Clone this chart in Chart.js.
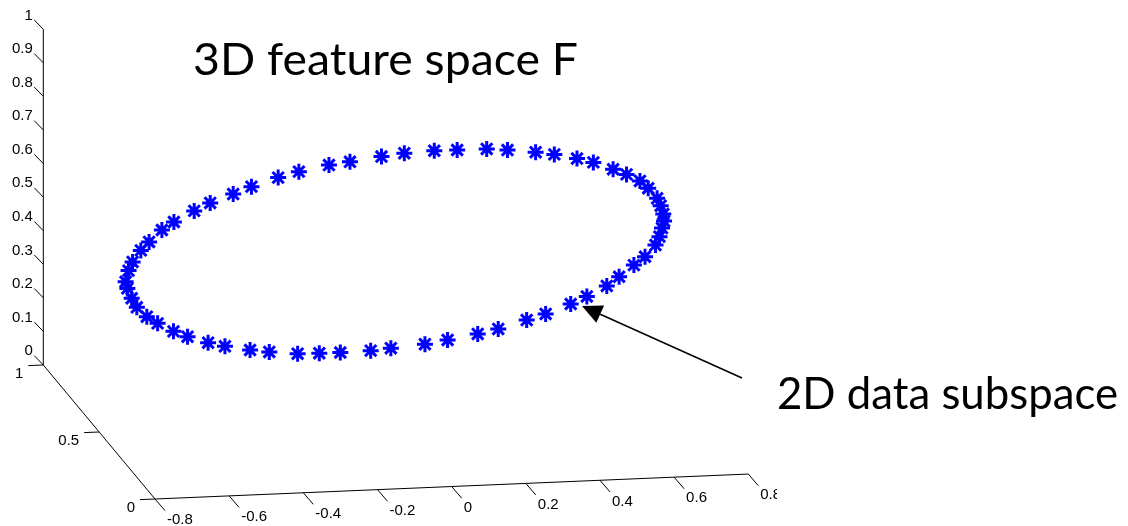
<!DOCTYPE html>
<html>
<head>
<meta charset="utf-8">
<script src="https://cdn.jsdelivr.net/npm/chart.js@4/dist/chart.umd.min.js"></script>
<style>
html,body{margin:0;padding:0;background:#ffffff;}
#wrap{width:1128px;height:526px;position:relative;}
</style>
</head>
<body>
<div id="wrap"><canvas id="c" width="1128" height="526"></canvas></div>
<script>
// ---- Data: points in the 3D feature space F ----
const featX = [-0.700,-0.685,-0.658,-0.630,-0.588,-0.548,-0.492,-0.445,-0.379,-0.327,
  -0.252,-0.196,-0.115,-0.056,0.001,0.082,0.134,0.222,0.278,0.352,
  0.401,0.466,0.509,0.563,0.596,0.635,0.655,0.678,0.696,0.707,
  0.705,0.699,0.694,0.681,0.661,0.640,0.600,0.566,0.519,0.474,
  0.409,0.358,0.289,0.234,0.153,0.094,0.014,-0.048,-0.127,-0.185,
  -0.264,-0.317,-0.390,-0.438,-0.498,-0.537,-0.587,-0.619,-0.658,-0.679,
  -0.696,-0.706,-0.711,-0.709];
const featY = [0.595,0.629,0.680,0.727,0.777,0.813,0.857,0.887,0.922,0.944,
  0.968,0.982,0.997,0.999,1.000,0.997,0.989,0.976,0.959,0.935,
  0.914,0.875,0.848,0.803,0.768,0.719,0.675,0.619,0.579,0.522,
  0.480,0.437,0.402,0.366,0.323,0.285,0.232,0.193,0.157,0.128,
  0.089,0.066,0.040,0.025,0.008,-0.002,-0.003,-0.004,0.002,0.014,
  0.034,0.046,0.073,0.099,0.139,0.173,0.213,0.250,0.302,0.340,
  0.398,0.439,0.496,0.539];
const featZ = [0.405,0.371,0.320,0.273,0.223,0.187,0.143,0.113,0.078,0.056,
  0.032,0.018,0.003,0.001,0.000,0.003,0.011,0.024,0.041,0.065,
  0.086,0.125,0.152,0.197,0.232,0.281,0.325,0.381,0.421,0.478,
  0.520,0.563,0.598,0.634,0.677,0.715,0.768,0.807,0.843,0.872,
  0.911,0.934,0.960,0.975,0.992,1.002,1.003,1.004,0.998,0.986,
  0.966,0.954,0.927,0.901,0.861,0.827,0.787,0.750,0.698,0.660,
  0.602,0.561,0.504,0.461];

// ---- Axis ticks ----
const xTicks = [-0.8,-0.6,-0.4,-0.2,0,0.2,0.4,0.6,0.8];
const xTickLabels = ['-0.8','-0.6','-0.4','-0.2','0','0.2','0.4','0.6','0.8'];
const yTicks = [0,0.5,1];
const yTickLabels = ['0','0.5','1'];
const zTicks = [0,0.1,0.2,0.3,0.4,0.5,0.6,0.7,0.8,0.9,1];
const zTickLabels = ['0','0.1','0.2','0.3','0.4','0.5','0.6','0.7','0.8','0.9','1'];

const titleText = '3D feature space F';
const noteText = '2D data subspace';

// ---- 3D view (orthographic projection onto the view plane) ----
const VIEW = {
  origin: {h:155, v:499},          // view-plane position of (x=-0.8, y=0, z=0)
  ex: {h:370.8, v:-15.6},          // per unit x
  ey: {h:-111.7, v:-134.0},        // per unit y
  ez: {h:0, v:-335.7},             // per unit z
  x0: -0.8
};
function proj(x, y, z){
  return {
    x: VIEW.origin.h + (x - VIEW.x0)*VIEW.ex.h + y*VIEW.ey.h + z*VIEW.ez.h,
    y: VIEW.origin.v + (x - VIEW.x0)*VIEW.ex.v + y*VIEW.ey.v + z*VIEW.ez.v
  };
}

const points = featX.map((x,i)=>proj(x, featY[i], featZ[i]));

const axes3d = {
  id:'axes3d',
  beforeDatasetsDraw(chart){
    const ctx = chart.ctx, sx = chart.scales.x, sy = chart.scales.y;
    const P = (p)=>({x: sx.getPixelForValue(p.x), y: sy.getPixelForValue(p.y)});
    const line = (a,b)=>{ctx.beginPath();ctx.moveTo(a.x,a.y);ctx.lineTo(b.x,b.y);ctx.stroke();};
    ctx.save();
    ctx.strokeStyle = '#000'; ctx.lineWidth = 1; ctx.fillStyle = '#000';
    ctx.font = '15px "Liberation Sans", Arial, sans-serif';
    // x axis (y=0,z=0)
    line(P(proj(-0.8,0,0)), P(proj(0.8,0,0)));
    // depth axis (x=-0.8,z=0)
    line(P(proj(-0.8,0,0)), P(proj(-0.8,1,0)));
    // vertical axis (x=-0.8,y=1)
    line(P(proj(-0.8,1,0)), P(proj(-0.8,1,1)));
    // x ticks
    ctx.textAlign = 'left'; ctx.textBaseline = 'top';
    xTicks.forEach((t,i)=>{
      const a = P(proj(t,0,0)); const b = {x:a.x+10, y:a.y+11.6};
      line(a,b);
      ctx.save();
      ctx.beginPath(); ctx.rect(0,0,777,526); ctx.clip();
      ctx.fillText(xTickLabels[i], b.x+2, b.y+2);
      ctx.restore();
    });
    // depth ticks
    ctx.textAlign = 'right'; ctx.textBaseline = 'middle';
    yTicks.forEach((t,i)=>{
      const a = P(proj(-0.8,t,0)); const b = {x:a.x-15, y:a.y+0.6};
      line(a,b);
      ctx.fillText(yTickLabels[i], b.x-5, b.y+8);
    });
    // z ticks
    zTicks.forEach((t,i)=>{
      const a = P(proj(-0.8,1,t)); const b = {x:a.x-9, y:a.y-9.3};
      line(a,b);
      ctx.fillText(zTickLabels[i], b.x-1.5, b.y-4.5);
    });
    ctx.restore();
  },
  afterDatasetsDraw(chart){
    const ctx = chart.ctx, sx = chart.scales.x, sy = chart.scales.y;
    const P = (h,v)=>({x: sx.getPixelForValue(h), y: sy.getPixelForValue(v)});
    ctx.save();
    // arrow annotation
    const tail = P(742,378), tip = P(582,306);
    const dx = tail.x-tip.x, dy = tail.y-tip.y, L = Math.hypot(dx,dy);
    const ux = dx/L, uy = dy/L, hl = 20, hw = 9.5;
    const bc = {x: tip.x+ux*hl, y: tip.y+uy*hl};
    ctx.strokeStyle = '#000'; ctx.lineWidth = 1.5;
    ctx.beginPath(); ctx.moveTo(tail.x,tail.y); ctx.lineTo(bc.x,bc.y); ctx.stroke();
    ctx.fillStyle = '#000';
    ctx.beginPath(); ctx.moveTo(tip.x,tip.y);
    ctx.lineTo(bc.x - uy*hw, bc.y + ux*hw);
    ctx.lineTo(bc.x + uy*hw, bc.y - ux*hw);
    ctx.closePath(); ctx.fill();
    // texts
    const drawFit = (txt, left, base, width)=>{
      ctx.font = '44px Lato, "DejaVu Sans", sans-serif';
      ctx.textAlign = 'left'; ctx.textBaseline = 'alphabetic';
      const w = ctx.measureText(txt).width;
      const s = width / w;
      ctx.save(); ctx.translate(left, base); ctx.scale(s, 1);
      ctx.fillText(txt, 0, 0); ctx.restore();
    };
    const t1 = P(193,75), t2 = P(777,409);
    drawFit(titleText, t1.x, t1.y, 385);
    drawFit(noteText, t2.x, t2.y, 341);
    ctx.restore();
  }
};

new Chart(document.getElementById('c'), {
  type: 'scatter',
  data: {
    datasets: [{
      label: 'F',
      data: points,
      pointStyle: 'star',
      pointRadius: 8,
      pointHoverRadius: 8,
      borderColor: '#0000ff',
      backgroundColor: '#0000ff',
      pointBorderWidth: 3,
      borderWidth: 3,
      showLine: false,
      clip: false
    }]
  },
  options: {
    responsive: false,
    animation: false,
    devicePixelRatio: 1,
    layout: {padding: 0, autoPadding: false},
    plugins: {legend:{display:false}, tooltip:{enabled:false}, title:{display:false}},
    scales: {
      x: {type:'linear', min:0, max:1128, display:false},
      y: {type:'linear', min:0, max:526, reverse:true, display:false}
    }
  },
  plugins: [axes3d]
});
</script>
</body>
</html>
